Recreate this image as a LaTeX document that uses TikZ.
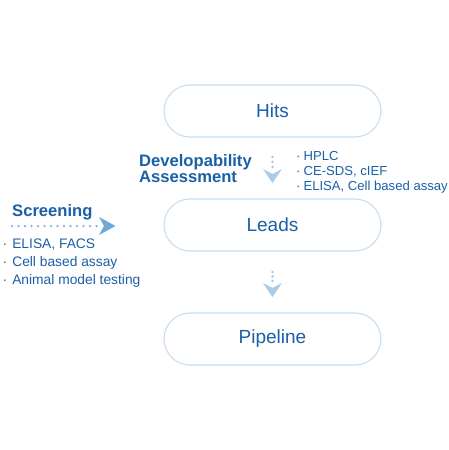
\documentclass[tikz,border=0pt]{standalone}
\usepackage{fontspec}
\setmainfont{Liberation Sans}
\definecolor{txtblue}{HTML}{1A60A8}
\definecolor{boxline}{HTML}{C9DEF0}
\definecolor{arrowlight}{HTML}{A9CBE8}
\definecolor{arrowmid}{HTML}{6FA8DA}
\definecolor{dotblue}{HTML}{7FAEDB}
\tikzset{
  stagebox/.style={draw=boxline, line width=1.1pt, rounded corners=26pt, minimum width=217pt, minimum height=52pt, text=txtblue, font=\fontsize{19}{22}\selectfont, inner sep=0pt},
  headlabel/.style={text=txtblue, font=\fontsize{16.6}{16}\selectfont\bfseries, inner sep=0pt, anchor=base west},
  rlist/.style={text=txtblue, font=\fontsize{13.1}{15.5}\selectfont, inner sep=0pt, anchor=base west},
  llist/.style={text=txtblue, font=\fontsize{13.8}{15.5}\selectfont, inner sep=0pt, anchor=base west},
}
\begin{document}
\begin{tikzpicture}[x=1pt,y=-1pt]
\useasboundingbox[fill=white] (0,0) rectangle (449,450);
% boxes
\node[stagebox] (hits) at (272.5,111) {Hits};
\node[stagebox] (leads) at (272.5,225) {Leads};
\node[stagebox] (pipe) at (272.5,339) {Pipeline};
% vertical arrow 1
\foreach \y in {157,162,167} \fill[dotblue!70] (272.5,\y) circle (1.3pt);
\fill[arrowlight] (263,169) -- (272.5,174) -- (282,169) -- (272.5,183) -- cycle;
% vertical arrow 2
\foreach \y in {272,276.5,281} \fill[dotblue!70] (272.5,\y) circle (1.3pt);
\fill[arrowlight] (263,283) -- (272.5,288) -- (282,283) -- (272.5,297) -- cycle;
% screening arrow
\foreach \i in {0,...,13} \fill[dotblue] (12+\i*6.5,226) circle (1.25pt);
\fill[arrowmid] (99,217) -- (115.5,226) -- (99,235) -- (104,226) -- cycle;
% labels
\node[headlabel] (dev1) at (139,166) {Developability};
\node[headlabel] (dev2) at (139,182) {Assessment};
\node[headlabel] (scr) at (12,216) {Screening};
\node[rlist] (l1) at (296,160) {·\hspace{3pt}HPLC};
\node[rlist] (l2) at (296,175) {·\hspace{3pt}CE-SDS, cIEF};
\node[rlist] (l3) at (296,190.5) {·\hspace{3pt}ELISA, Cell based assay};
\node[llist] (s1) at (2.5,248) {·\hspace{5pt}ELISA, FACS};
\node[llist] (s2) at (2.5,266) {·\hspace{5pt}Cell based assay};
\node[llist] (s3) at (2.5,284) {·\hspace{5pt}Animal model testing};
\end{tikzpicture}
\end{document}
